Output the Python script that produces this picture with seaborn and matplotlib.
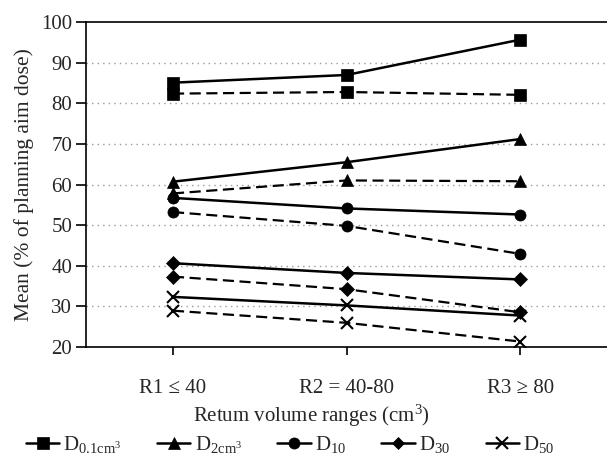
import numpy as np
import pandas as pd
import matplotlib
matplotlib.use("Agg")
import matplotlib.pyplot as plt
from matplotlib.lines import Line2D
import seaborn as sns

# values
ranges = ["R1 \u2264 40", "R2 = 40-80", "R3 \u2265 80"]
doses = ["D0.1", "D2", "D10", "D30", "D50"]
dose_labels = [r"D$_{0.1\mathrm{cm}^3}$", r"D$_{2\mathrm{cm}^3}$", r"D$_{10}$", r"D$_{30}$", r"D$_{50}$"]
markers = ["s", "^", "o", "D", "x"]

solid_vals = {
    "D0.1": [85.1, 87.0, 95.7],
    "D2": [60.7, 65.5, 71.2],
    "D10": [56.7, 54.1, 52.6],
    "D30": [40.6, 38.2, 36.6],
    "D50": [32.3, 30.2, 27.7],
}
dashed_vals = {
    "D0.1": [82.4, 82.8, 82.1],
    "D2": [57.8, 61.0, 60.8],
    "D10": [53.2, 49.8, 42.9],
    "D30": [37.3, 34.2, 28.5],
    "D50": [28.9, 25.9, 21.3],
}

sns.set_theme(style="white")
plt.rcParams["font.family"] = ["Liberation Serif", "DejaVu Serif"]
plt.rcParams["mathtext.fontset"] = "custom"
plt.rcParams["mathtext.rm"] = "Liberation Serif"
plt.rcParams["mathtext.it"] = "Liberation Serif:italic"

fs = 15

fig, ax = plt.subplots(figsize=(6.07, 4.63), dpi=100)
fig.subplots_adjust(left=0.142, right=1.0, top=0.952, bottom=0.251)

x = np.arange(len(ranges))
for d, m in zip(doses, markers):
    ms = 8 if m != "D" else 7
    for vals, ls, lw in [(solid_vals[d], "-", 1.8), (dashed_vals[d], (0, (5, 2.5)), 1.6)]:
        df = pd.DataFrame({"x": x, "y": vals})
        sns.lineplot(data=df, x="x", y="y", ax=ax, color="black", linestyle=ls,
                     linewidth=lw, marker=m, markersize=ms, markeredgecolor="black",
                     markeredgewidth=1.5 if m == "x" else 0.5, legend=False)

ax.set_xlim(-0.5, 2.5)
ax.set_ylim(20, 100)
ax.set_yticks(range(20, 101, 10))
ax.set_xticks(x)
ax.set_xticklabels(ranges)
for yv in range(30, 100, 10):
    ax.axhline(yv, color="#999999", linestyle=(0, (1, 3)), linewidth=1, zorder=0)

for s in ["left", "bottom", "top"]:
    ax.spines[s].set_color("black")
    ax.spines[s].set_linewidth(1.2)
ax.spines["right"].set_visible(False)

ax.tick_params(axis="y", direction="out", length=7, width=1.2, pad=3, labelsize=fs, left=True, color="black")
ax.tick_params(axis="x", direction="out", length=6, width=1.2, pad=17, labelsize=fs, bottom=True, color="black")

ax.set_ylabel("Mean (% of planning aim dose)", fontsize=15.5, labelpad=5)
ax.set_xlabel("Retum volume ranges (cm$^3$)", fontsize=fs)
ax.xaxis.set_label_coords(0.432, -0.172)

handles = [Line2D([0], [0], color="black", linewidth=1.8, marker=m,
                  markersize=8 if m != "D" else 6, markeredgewidth=1.5 if m == "x" else 0.5)
           for m in markers]
fig.legend(handles, dose_labels, loc="lower center", bbox_to_anchor=(0.478, -0.006), ncol=5,
           frameon=False, fontsize=fs, handlelength=1.6, handletextpad=0.2,
           columnspacing=1.7, borderpad=0)

fig.savefig("out.png", dpi=100)
